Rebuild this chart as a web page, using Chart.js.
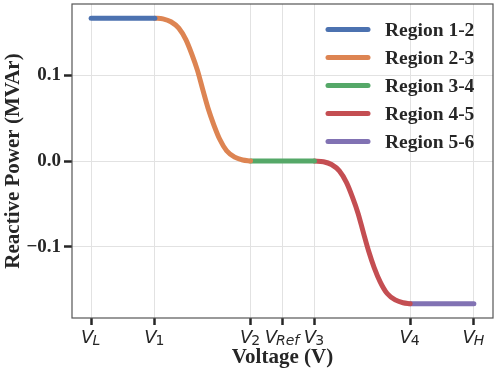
<!DOCTYPE html>
<html>
<head>
<meta charset="utf-8">
<script src="https://cdn.jsdelivr.net/npm/chart.js@4.4.0/dist/chart.umd.min.js"></script>
<style>
    html, body { margin: 0; padding: 0; background: #fff; }
    #wrap { width: 498px; height: 373px; }
</style>
</head>
<body>
<div id="wrap"><canvas id="chart" width="498" height="373"></canvas></div>
<script>
// tick positions on the voltage axis (V_L ... V_H)
const tickNames = ['L', '1', '2', 'Ref', '3', '4', 'H'];
const tickVoltages = [0.9, 0.9333, 0.9833, 1.0, 1.0167, 1.0667, 1.1];
const yTicks = [-0.1, 0.0, 0.1];

const regionNames = ['Region 1-2', 'Region 2-3', 'Region 3-4', 'Region 4-5', 'Region 5-6'];
const regionColors = ['#4C72B0', '#DD8452', '#55A868', '#C44E52', '#8172B3'];

// values
const region12V = [0.9, 0.9333];
const region12Q = [0.1667, 0.1667];
const region23V = [0.9333, 0.9375, 0.9417, 0.9458, 0.9495, 0.9526, 0.9556, 0.9583,
                   0.9611, 0.9641, 0.9672, 0.9708, 0.9750, 0.9792, 0.9833];
const region23Q = [0.1667, 0.1659, 0.1626, 0.1551, 0.1417, 0.1248, 0.1055, 0.0836,
                   0.0616, 0.0423, 0.0254, 0.0120, 0.0045, 0.0012, 0.0];
const region34V = [0.9833, 1.0167];
const region34Q = [0.0, 0.0];
const region45V = [1.0167, 1.0214, 1.0256, 1.0297, 1.0334, 1.0365, 1.0395, 1.0422,
                   1.0450, 1.0479, 1.0511, 1.0547, 1.0589, 1.0630, 1.0667];
const region45Q = [0.0, -0.0008, -0.0041, -0.0116, -0.0250, -0.0419, -0.0612, -0.0831,
                   -0.1051, -0.1244, -0.1413, -0.1547, -0.1622, -0.1655, -0.1667];
const region56V = [1.0667, 1.1];
const region56Q = [-0.1667, -0.1667];

const regionV = [region12V, region23V, region34V, region45V, region56V];
const regionQ = [region12Q, region23Q, region34Q, region45Q, region56Q];

const textColor = '#262626';
const serif = '"Liberation Serif", "Times New Roman", serif';

// frame round the plot area
const framePlugin = {
    id: 'frame',
    afterDatasetsDraw(chart) {
        const {ctx, chartArea: a} = chart;
        ctx.save();
        ctx.strokeStyle = '#555555';
        ctx.lineWidth = 1.2;
        ctx.strokeRect(a.left, a.top, a.right - a.left, a.bottom - a.top);
        ctx.restore();
    }
};

// V with subscript tick labels (digits upright, letters italic)
const subTickPlugin = {
    id: 'subTicks',
    afterDraw(chart) {
        const {ctx, chartArea: a} = chart;
        const xScale = chart.scales.x;
        ctx.save();
        ctx.fillStyle = textColor;
        ctx.textBaseline = 'alphabetic';
        ctx.textAlign = 'left';
        tickVoltages.forEach(function(v, i) {
            const px = xScale.getPixelForValue(v);
            const subFont = (/^\d+$/.test(tickNames[i]) ? '' : 'italic ') + '14px "DejaVu Sans"';
            ctx.font = 'italic 18px "DejaVu Sans"';
            const wMain = ctx.measureText('V').width;
            ctx.font = subFont;
            const wSub = ctx.measureText(tickNames[i]).width;
            const x0 = px - (wMain + wSub) / 2;
            ctx.font = 'italic 18px "DejaVu Sans"';
            ctx.fillText('V', x0, a.bottom + 25);
            ctx.font = subFont;
            ctx.fillText(tickNames[i], x0 + wMain - 1, a.bottom + 27);
        });
        ctx.restore();
    }
};

// legend inside the upper right corner
const innerLegendPlugin = {
    id: 'innerLegend',
    afterDraw(chart) {
        const {ctx, chartArea: a} = chart;
        ctx.save();
        ctx.font = 'bold 19.5px ' + serif;
        ctx.textBaseline = 'middle';
        ctx.textAlign = 'left';
        regionNames.forEach(function(name, i) {
            const y = a.top + 25.5 + i * 28;
            ctx.strokeStyle = regionColors[i];
            ctx.lineWidth = 5;
            ctx.lineCap = 'round';
            ctx.beginPath();
            ctx.moveTo(a.right - 165, y);
            ctx.lineTo(a.right - 125, y);
            ctx.stroke();
            ctx.fillStyle = textColor;
            ctx.fillText(name, a.right - 108, y + 1);
        });
        ctx.restore();
    }
};

document.addEventListener('DOMContentLoaded', function() {
    const ctx = document.getElementById('chart').getContext('2d');
    new Chart(ctx, {
        type: 'line',
        data: {
            datasets: regionNames.map(function(name, i) {
                return {
                    label: name,
                    data: regionV[i].map((v, k) => ({x: v, y: regionQ[i][k]})),
                    borderColor: regionColors[i],
                    backgroundColor: regionColors[i],
                    borderWidth: 5,
                    borderCapStyle: 'round',
                    borderJoinStyle: 'round',
                    cubicInterpolationMode: 'monotone',
                    pointRadius: 0,
                    fill: false
                };
            })
        },
        options: {
            responsive: false,
            animation: false,
            devicePixelRatio: 1,
            layout: { padding: { top: 4, right: 5, left: 0, bottom: 0 } },
            plugins: {
                legend: { display: false },
                tooltip: { enabled: false }
            },
            scales: {
                x: {
                    type: 'linear',
                    min: 0.89,
                    max: 1.11,
                    afterBuildTicks: function(scale) {
                        scale.ticks = tickVoltages.map(v => ({value: v}));
                    },
                    afterFit: function(scale) {
                        scale.height = 55;
                        scale.paddingLeft = 0;
                        scale.paddingRight = 0;
                    },
                    ticks: { display: false },
                    grid: {
                        color: '#e2e2e2',
                        lineWidth: 1,
                        drawTicks: true,
                        tickLength: 7,
                        tickWidth: 2.5,
                        tickColor: textColor
                    },
                    border: { display: false },
                    title: {
                        display: true,
                        text: 'Voltage (V)',
                        color: textColor,
                        font: { family: serif, size: 21, weight: 'bold' },
                        padding: { top: 0, bottom: 3 }
                    }
                },
                y: {
                    min: -0.1833,
                    max: 0.1833,
                    afterBuildTicks: function(scale) {
                        scale.ticks = yTicks.map(v => ({value: v}));
                    },
                    afterFit: function(scale) {
                        scale.width = 72;
                        scale.paddingTop = 0;
                        scale.paddingBottom = 0;
                    },
                    ticks: {
                        color: textColor,
                        padding: 3,
                        font: { family: serif, size: 19, weight: 'bold' },
                        callback: function(v) {
                            const s = Math.abs(v).toFixed(1);
                            return v < -1e-9 ? '\u2212' + s : s;
                        }
                    },
                    grid: {
                        color: '#e2e2e2',
                        lineWidth: 1,
                        drawTicks: true,
                        tickLength: 8,
                        tickWidth: 2.5,
                        tickColor: textColor
                    },
                    border: { display: false },
                    title: {
                        display: true,
                        text: 'Reactive Power (MVAr)',
                        color: textColor,
                        font: { family: serif, size: 21, weight: 'bold' },
                        padding: { top: 1, bottom: 0 }
                    }
                }
            }
        },
        plugins: [framePlugin, subTickPlugin, innerLegendPlugin]
    });
});
</script>
</body>
</html>
